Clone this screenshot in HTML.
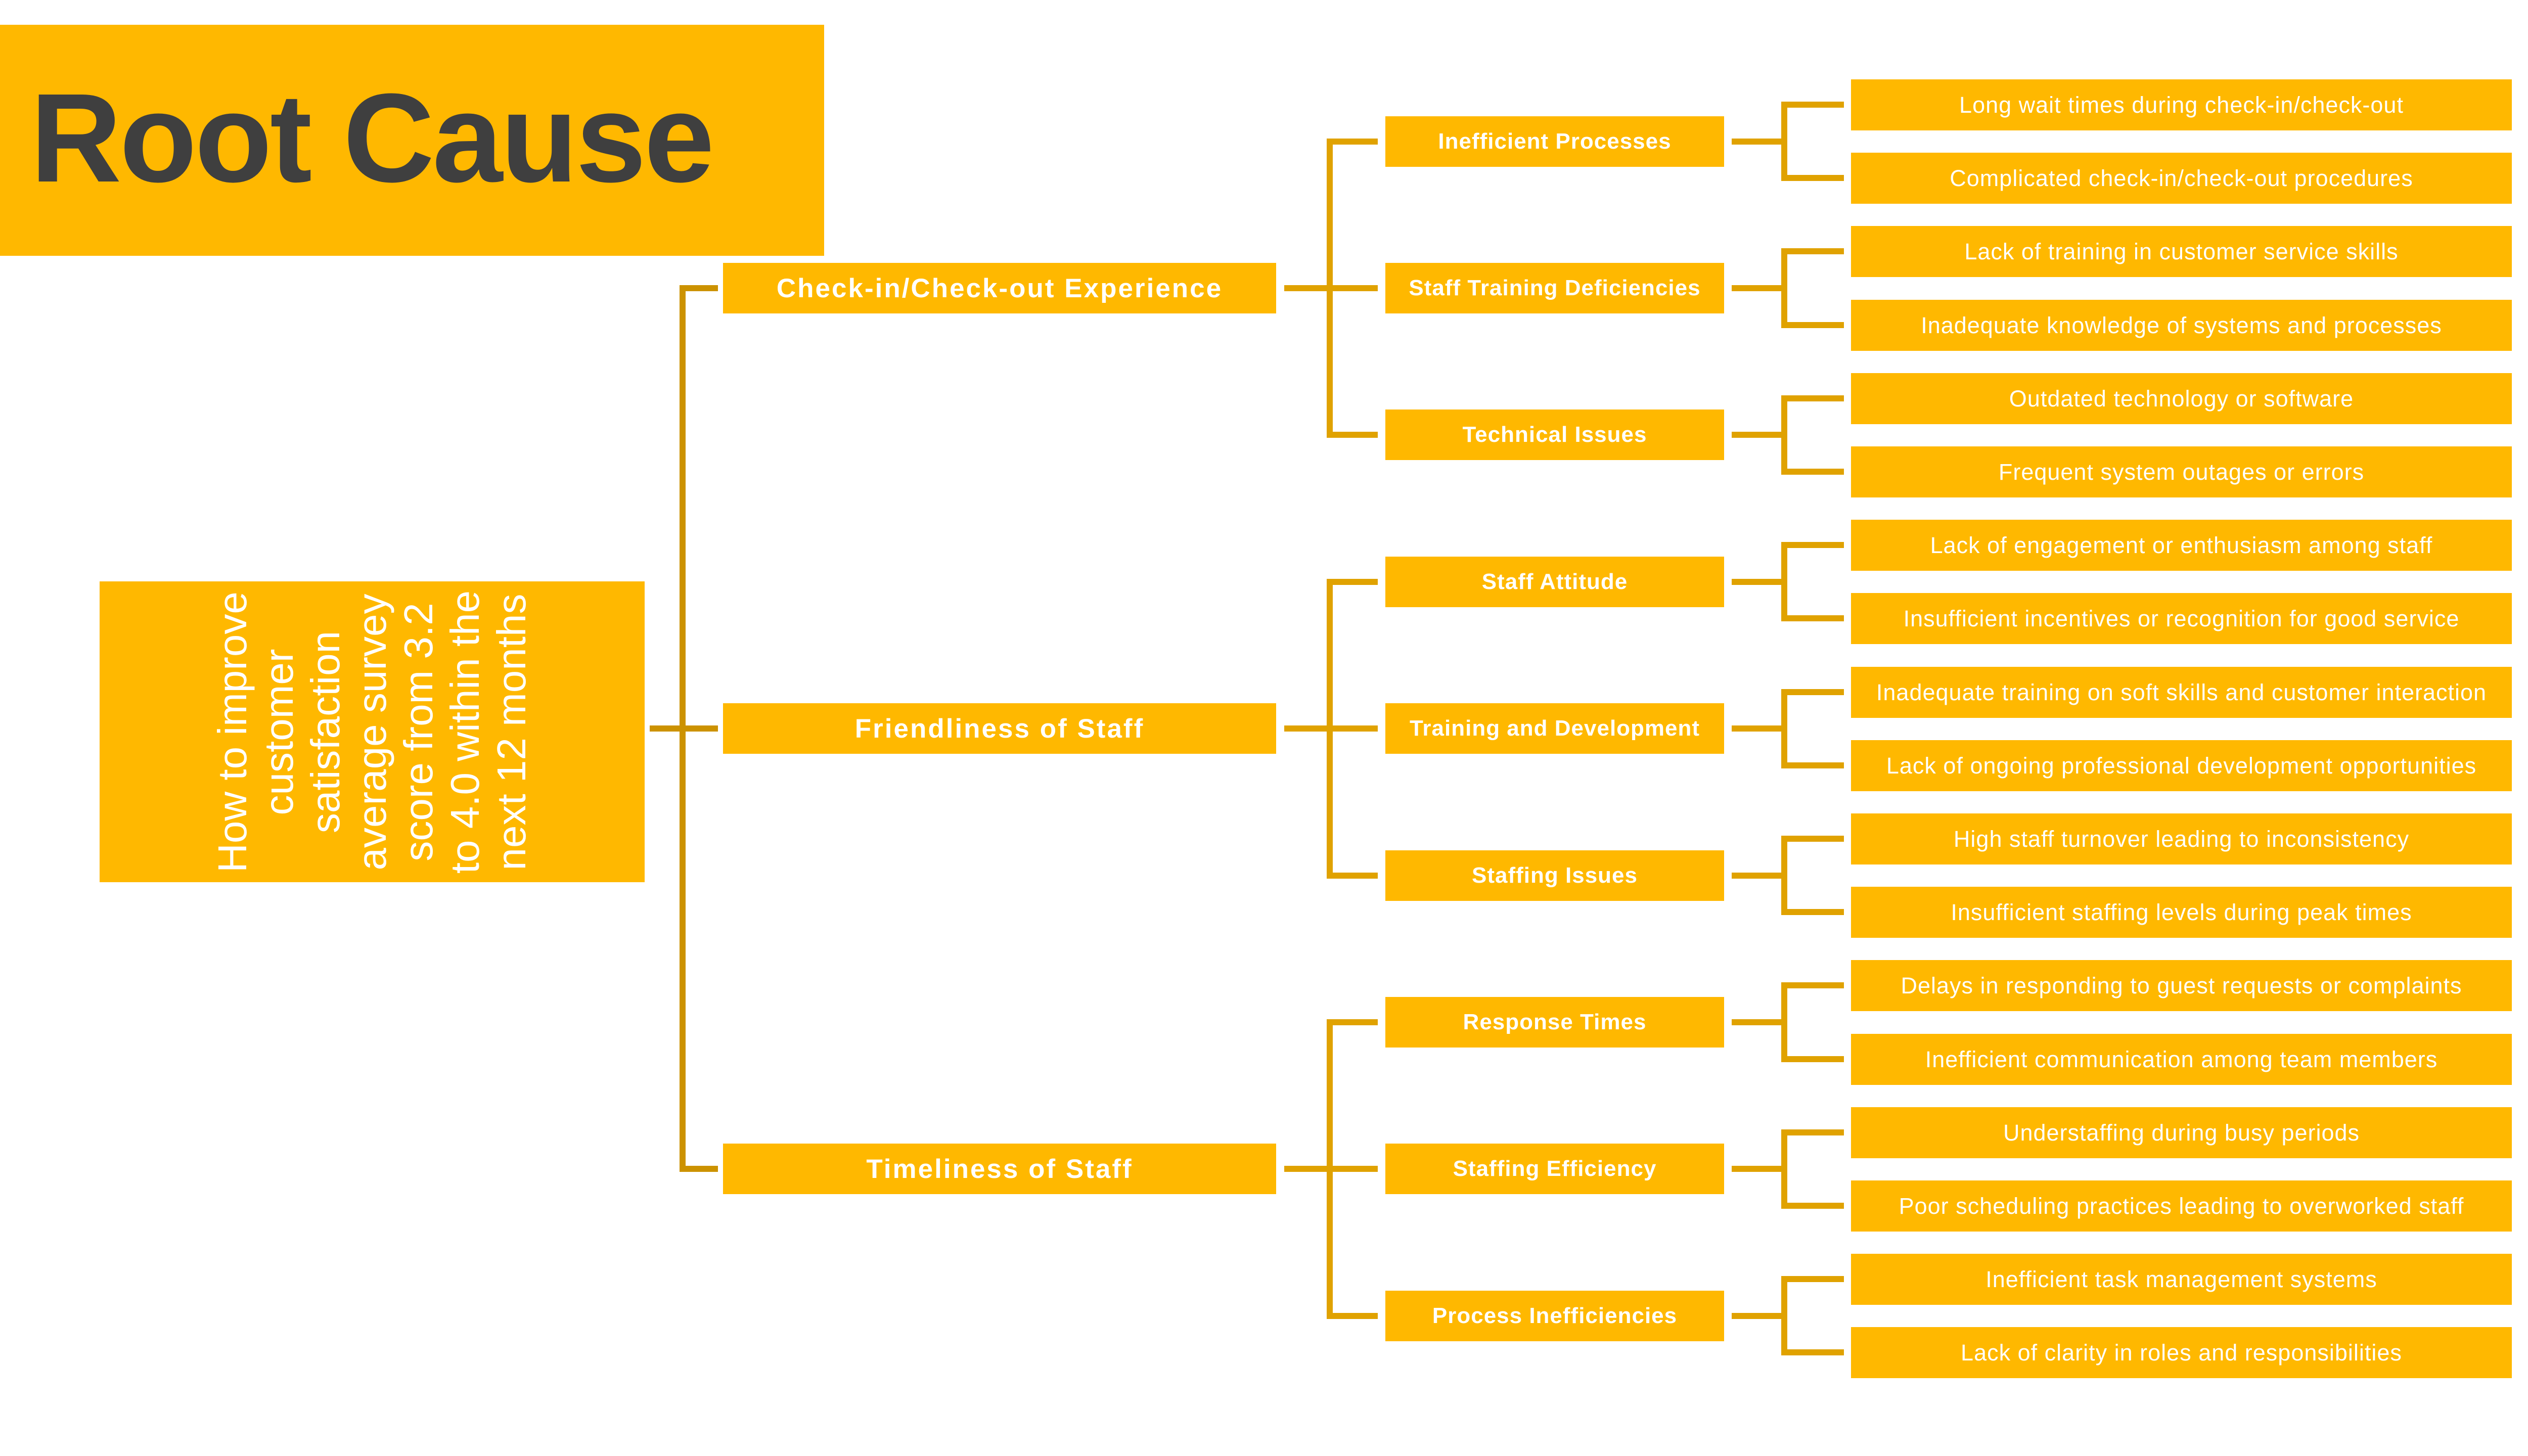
<!DOCTYPE html>
<html><head><meta charset="utf-8"><style>
body{margin:0;width:5120px;height:2880px;background:#fff;position:relative;overflow:hidden;font-family:"Liberation Sans",sans-serif}
.b{position:absolute;background:#FFB800;color:#fff;display:flex;align-items:center;justify-content:center;white-space:nowrap}
.l1{left:1430px;width:1094px;height:100px;font-weight:bold;font-size:53px;letter-spacing:3px}
.l2{left:2740px;width:670px;height:100px;font-weight:bold;font-size:44px;letter-spacing:1px}
.l3{left:3661px;width:1307px;height:101px;font-size:45px;letter-spacing:1px}
svg{position:absolute;left:0;top:0}
</style></head><body>
<div class="b" style="left:0;top:49px;width:1630px;height:457px;justify-content:flex-start"><span style="color:#3f3f3f;font-weight:bold;font-size:250px;margin-left:60px;letter-spacing:-4px;margin-top:-10px">Root Cause</span></div>
<div class="b" style="left:197px;top:1150px;width:1078px;height:595px">
<div style="transform:rotate(-90deg);font-size:80px;line-height:92px;text-align:center;white-space:nowrap">How to improve<br>customer<br>satisfaction<br>average survey<br>score from 3.2<br>to 4.0 within the<br>next 12 months</div></div>
<svg width="5120" height="2880">
<g stroke="#CC9200" stroke-width="12" fill="none" id="m"></g>
<g stroke="#E0A200" stroke-width="12" fill="none" id="c"></g>
</svg>
<div id="n"></div>
<script>
var g=document.getElementById('c'),n=document.getElementById('n');
var L1=["Check-in/Check-out Experience","Friendliness of Staff","Timeliness of Staff"];
var L2=["Inefficient Processes","Staff Training Deficiencies","Technical Issues","Staff Attitude","Training and Development","Staffing Issues","Response Times","Staffing Efficiency","Process Inefficiencies"];
var L3=["Long wait times during check-in/check-out","Complicated check-in/check-out procedures","Lack of training in customer service skills","Inadequate knowledge of systems and processes","Outdated technology or software","Frequent system outages or errors","Lack of engagement or enthusiasm among staff","Insufficient incentives or recognition for good service","Inadequate training on soft skills and customer interaction","Lack of ongoing professional development opportunities","High staff turnover leading to inconsistency","Insufficient staffing levels during peak times","Delays in responding to guest requests or complaints","Inefficient communication among team members","Understaffing during busy periods","Poor scheduling practices leading to overworked staff","Inefficient task management systems","Lack of clarity in roles and responsibilities"];
function y3(k){return Math.round(207+145.2*k);}
function y2(j){return Math.round(279.6+290.4*j);}
var L1y=[y2(1),y2(4),y2(7)];
var h='',p='';
for(var i=0;i<3;i++){h+='<div class="b l1" style="top:'+(L1y[i]-50)+'px">'+L1[i]+'</div>';}
for(var j=0;j<9;j++){h+='<div class="b l2" style="top:'+(y2(j)-50)+'px">'+L2[j]+'</div>';}
for(var k=0;k<18;k++){h+='<div class="b l3" style="top:'+(y3(k)-50)+'px">'+L3[k]+'</div>';}
for(var i=0;i<3;i++){
p+='M2540 '+L1y[i]+'H2630M2725 '+y2(3*i)+'H2630V'+y2(3*i+2)+'H2725M2630 '+y2(3*i+1)+'H2725';}
for(var j=0;j<9;j++){
p+='M3425 '+y2(j)+'H3529M3647 '+y3(2*j)+'H3529V'+y3(2*j+1)+'H3647';}
n.innerHTML=h;
var e=document.createElementNS('http://www.w3.org/2000/svg','path');e.setAttribute('d',p);g.appendChild(e);
var m=document.createElementNS('http://www.w3.org/2000/svg','path');
m.setAttribute('d','M1285 '+L1y[1]+'H1420M1420 '+L1y[0]+'H1350V'+L1y[2]+'H1420');
document.getElementById('m').appendChild(m);
</script>
</body></html>
